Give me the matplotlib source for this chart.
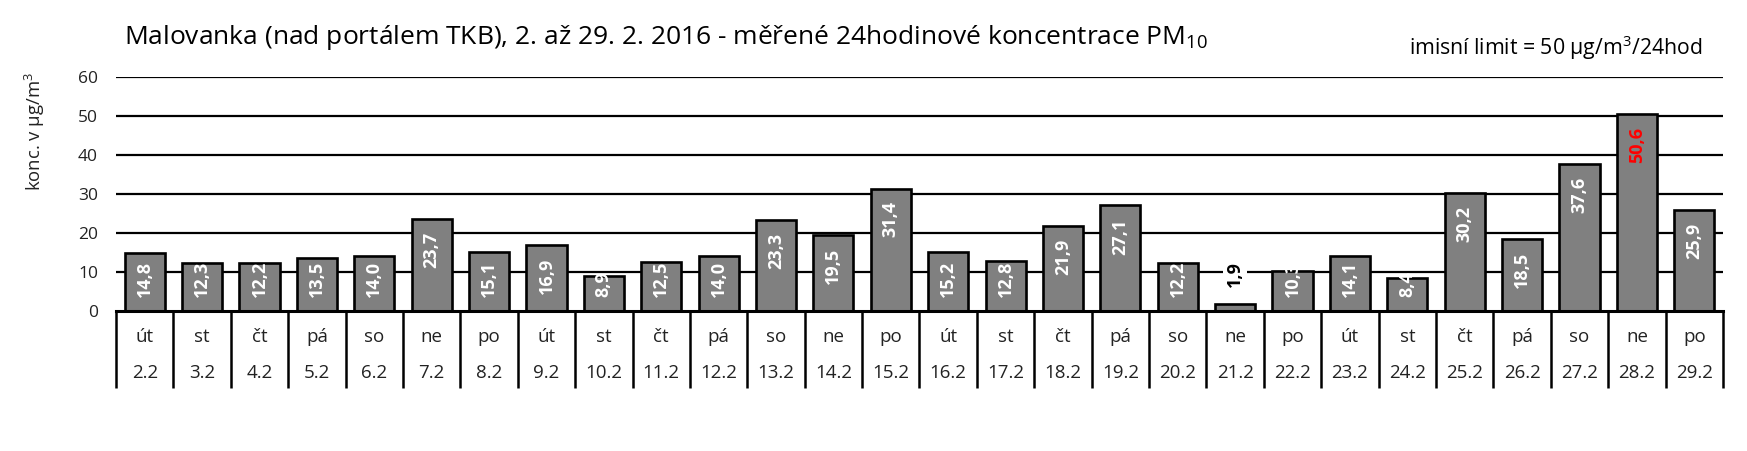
import numpy as np
import matplotlib.pyplot as plt

plt.rcParams['font.family'] = ['Open Sans', 'DejaVu Sans']
plt.rcParams['mathtext.fontset'] = 'custom'
plt.rcParams['mathtext.rm'] = 'Open Sans'

days = ['út', 'st', 'čt', 'pá', 'so', 'ne', 'po'] * 4
dates = ['%d.2' % d for d in range(2, 30)]
pm10 = [14.8, 12.3, 12.2, 13.5, 14.0, 23.7, 15.1, 16.9, 8.9, 12.5, 14.0, 23.3, 19.5, 31.4,
        15.2, 12.8, 21.9, 27.1, 12.2, 1.9, 10.3, 14.1, 8.4, 30.2, 18.5, 37.6, 50.6, 25.9]
limit = 50
yticks = [0, 10, 20, 30, 40, 50, 60]

W, H = 1747, 451
fig = plt.figure(figsize=(W / 100, H / 100), dpi=100)
ax = fig.add_axes([116 / W, 1 - 311 / H, (1723 - 116) / W, (311 - 77) / H])

x = np.arange(len(pm10))
ax.bar(x, pm10, width=0.7, color='#808080', edgecolor='black', linewidth=1.9, zorder=3)

ax.set_xlim(-0.5, len(pm10) - 0.5)
ax.set_ylim(0, 60)
ax.set_yticks(yticks)
ax.set_xticks([])
ax.tick_params(axis='y', length=0, pad=13, labelsize=12.5, colors='#222222')
for s in ['top', 'right', 'left']:
    ax.spines[s].set_visible(False)
ax.spines['bottom'].set_linewidth(2.2)
ax.spines['bottom'].set_zorder(4)
for t in yticks[1:]:
    ax.axhline(t, color='black', linewidth=1.6, zorder=1)

# value labels inside bars (Excel "inside end", pushed up when the bar is short)
for xi, v in zip(x, pm10):
    txt = ('%.1f' % v).replace('.', ',')
    kw = dict(rotation=90, ha='center', fontsize=13, fontweight='bold', zorder=5)
    if v < 5:
        ax.text(xi, 6.2, txt, va='bottom', color='black',
                bbox=dict(facecolor='white', edgecolor='none', pad=2), **kw)
    else:
        col = 'red' if v > limit else 'white'
        if v < 15.5:
            ax.text(xi, 3.6, txt, va='bottom', color=col, **kw)
        else:
            ax.text(xi, v - 3.3, txt, va='top', color=col, **kw)

# table under the axis
tr = ax.get_xaxis_transform()
tbl_bottom = -(388 - 311) / (311 - 77)
ax.vlines(np.arange(len(pm10) + 1) - 0.5, tbl_bottom, 0, transform=tr, color='black',
          linewidth=1.8, clip_on=False)
for xi, d, dt in zip(x, days, dates):
    ax.text(xi, -(337 - 311) / (311 - 77), d, transform=tr, ha='center', va='center',
            fontsize=13.5, color='#222222')
    ax.text(xi, -(373 - 311) / (311 - 77), dt, transform=tr, ha='center', va='center',
            fontsize=13.5, color='#222222')

fig.text(124 / W, 1 - 37 / H,
         r'Malovanka (nad portálem TKB), 2. až 29. 2. 2016 - měřené 24hodinové koncentrace PM$_{\mathregular{10}}$',
         ha='left', va='center', fontsize=19, color='black')
fig.text(1702 / W, 1 - 48 / H, r'imisní limit = 50 µg/m$^{\mathregular{3}}$/24hod', ha='right',
         va='center', fontsize=15.3, color='black')
fig.text(35 / W, 1 - 132 / H, r'konc. v µg/m$^{\mathregular{3}}$', rotation=90, ha='center',
         va='center', fontsize=13.3, color='#222222')

fig.savefig('out.png', dpi=100, facecolor='white')
